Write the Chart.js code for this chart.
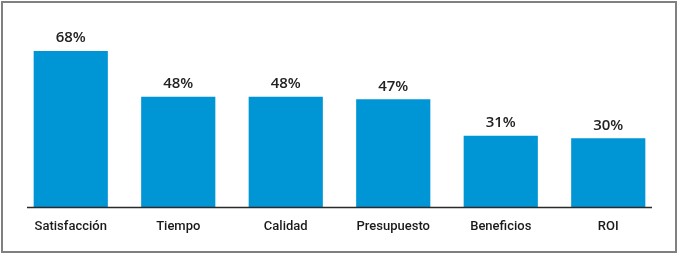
<!doctype html>
<html lang="es">
<head>
    <meta charset="UTF-8">
    <script src="https://cdn.jsdelivr.net/npm/chart.js"></script>
    <title>Resultados</title>
    <style>
        html, body { margin: 0; padding: 0; background: #fff; }
        #wrap { position: relative; width: 679px; height: 255px; }
    </style>
</head>
<body>
<div id="wrap"><canvas id="chart"></canvas></div>
<script>
    const categories = ['Satisfacción', 'Tiempo', 'Calidad', 'Presupuesto', 'Beneficios', 'ROI'];
    const values = [68, 48, 48, 47, 31, 30];

    // frame around the whole picture + short baseline under the bars
    const framePlugin = {
        id: 'frame',
        beforeDraw(chart) {
            const c = chart.ctx;
            c.save();
            c.strokeStyle = '#808080';
            c.lineWidth = 2;
            c.strokeRect(2, 2, 674, 250);
            c.restore();
        },
        afterDatasetsDraw(chart) {
            const c = chart.ctx;
            const y = chart.scales.y.getPixelForValue(0);
            c.save();
            c.strokeStyle = '#2a2a2a';
            c.lineWidth = 1.5;
            c.beginPath();
            c.moveTo(27, y + 0.5);
            c.lineTo(652, y + 0.5);
            c.stroke();

            // value labels above bars
            c.fillStyle = '#222';
            c.font = '600 15px "Open Sans", sans-serif';
            c.textAlign = 'center';
            c.textBaseline = 'alphabetic';
            chart.getDatasetMeta(0).data.forEach((bar, i) => {
                c.fillText(values[i] + '%', bar.x, bar.y - 8.5);
            });
            c.restore();
        }
    };

    new Chart(document.getElementById('chart'), {
        type: 'bar',
        data: {
            labels: categories,
            datasets: [{
                data: values,
                backgroundColor: '#0095d5',
                borderWidth: 0,
                categoryPercentage: 1,
                barPercentage: 0.69
            }]
        },
        options: {
            responsive: true,
            maintainAspectRatio: false,
            animation: false,
            layout: { padding: { left: 17, right: 17, top: 20, bottom: 0 } },
            plugins: { legend: { display: false }, tooltip: { enabled: false } },
            scales: {
                x: {
                    grid: { display: false },
                    border: { display: false },
                    ticks: {
                        color: '#1a1a1a',
                        padding: 4,
                        font: { family: 'Roboto, sans-serif', size: 13, weight: '500' }
                    },
                    afterFit(scale) { scale.height = 48; }
                },
                y: {
                    display: false,
                    min: 0,
                    max: 81.5
                }
            }
        },
        plugins: [framePlugin]
    });
</script>
</body>
</html>
